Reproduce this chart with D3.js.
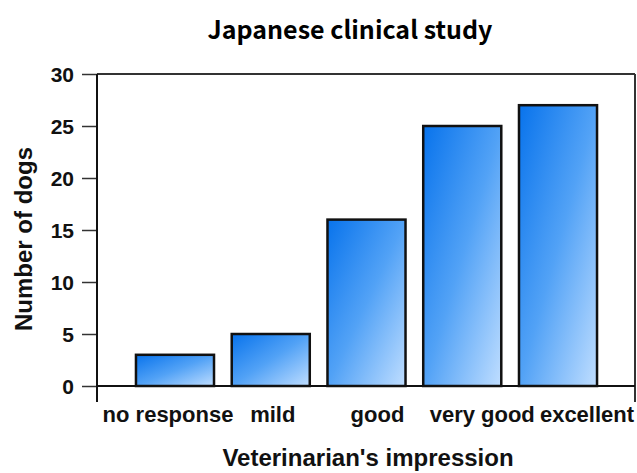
<!DOCTYPE html>
<html><head><meta charset="utf-8">
<script src="https://cdn.jsdelivr.net/npm/d3@7"></script>
<style>body{margin:0;background:#fff}svg{display:block}</style>
</head><body>
<svg id="c" width="637" height="473"></svg>
<script>
const categories = ["no response", "mild", "good", "very good", "excellent"];
const counts = [3, 5, 16, 25, 27];
const yTicks = [0, 5, 10, 15, 20, 25, 30];
const title = "Japanese clinical study";
const xTitle = "Veterinarian's impression";
const yTitle = "Number of dogs";

const svg = d3.select("#c");
const W = 637, H = 473;
const m = {left: 97, right: 1, top: 74, bottom: 87};
const FONT = "Liberation Sans, Arial, sans-serif";

const y = d3.scaleLinear().domain([0, 30]).range([H - m.bottom, m.top]);
const x = d3.scaleBand().domain(categories).range([m.left, W - m.right])
  .paddingInner(0.185).paddingOuter(0.407);
const xl = d3.scalePoint().domain(categories).range([168, 587]);

const defs = svg.append("defs");
const g = defs.append("linearGradient").attr("id", "bg")
  .attr("x1", 0).attr("y1", 0).attr("x2", 1).attr("y2", 1);
g.append("stop").attr("offset", "0%").attr("stop-color", "#0873ec");
g.append("stop").attr("offset", "50%").attr("stop-color", "#52a2f6");
g.append("stop").attr("offset", "100%").attr("stop-color", "#c0deff");

// frame top and right
svg.append("line").attr("x1", m.left).attr("x2", W - m.right - 1)
  .attr("y1", y(30)).attr("y2", y(30)).attr("stroke", "#333").attr("stroke-width", 2);
svg.append("line").attr("x1", W - m.right - 1).attr("x2", W - m.right - 1)
  .attr("y1", y(30)).attr("y2", y(0) + 16).attr("stroke", "#333").attr("stroke-width", 2);

// bars
svg.selectAll("rect.bar").data(categories).join("rect").attr("class", "bar")
  .attr("x", d => x(d)).attr("width", x.bandwidth())
  .attr("y", (d, i) => y(counts[i])).attr("height", (d, i) => y(0) - y(counts[i]))
  .attr("fill", "url(#bg)").attr("stroke", "#111").attr("stroke-width", 2.5);

// axes
const ya = svg.append("g").attr("transform", `translate(${m.left},0)`)
  .call(d3.axisLeft(y).tickValues(yTicks).tickSize(15).tickPadding(8).tickSizeOuter(0));
ya.select(".domain").remove();
ya.selectAll(".tick line").attr("stroke", "#333").attr("stroke-width", 1.5);
ya.selectAll(".tick text").attr("x", -23).attr("dy", 7.5)
  .attr("font-family", FONT)
  .attr("font-weight", "bold").attr("font-size", 21).attr("fill", "#111")
  .attr("text-anchor", "end");

svg.append("line").attr("x1", m.left).attr("x2", m.left)
  .attr("y1", y(30)).attr("y2", y(0) + 16).attr("stroke", "#111").attr("stroke-width", 2);
svg.append("line").attr("x1", m.left).attr("x2", W - m.right - 1)
  .attr("y1", y(0)).attr("y2", y(0)).attr("stroke", "#111").attr("stroke-width", 2);

// x labels
svg.selectAll("text.xl").data(categories).join("text").attr("class", "xl")
  .attr("x", d => xl(d)).attr("y", 422)
  .attr("text-anchor", "middle")
  .attr("font-family", FONT)
  .attr("font-weight", "bold").attr("font-size", 22).attr("fill", "#111")
  .text(d => d);

// axis titles
svg.append("text").attr("x", 368).attr("y", 466)
  .attr("text-anchor", "middle")
  .attr("font-family", FONT)
  .attr("font-weight", "bold").attr("font-size", 24).attr("fill", "#111")
  .text(xTitle);
svg.append("text").attr("transform", `translate(32,239) rotate(-90)`)
  .attr("text-anchor", "middle")
  .attr("font-family", FONT)
  .attr("font-weight", "bold").attr("font-size", 24).attr("fill", "#111")
  .text(yTitle);

// title
svg.append("text").attr("x", 350).attr("y", 39)
  .attr("text-anchor", "middle")
  .attr("font-family", "Noto Sans CJK JP, Noto Sans, sans-serif")
  .attr("font-weight", "bold").attr("font-size", 25).attr("fill", "#000")
  .text(title);
</script>
</body></html>
